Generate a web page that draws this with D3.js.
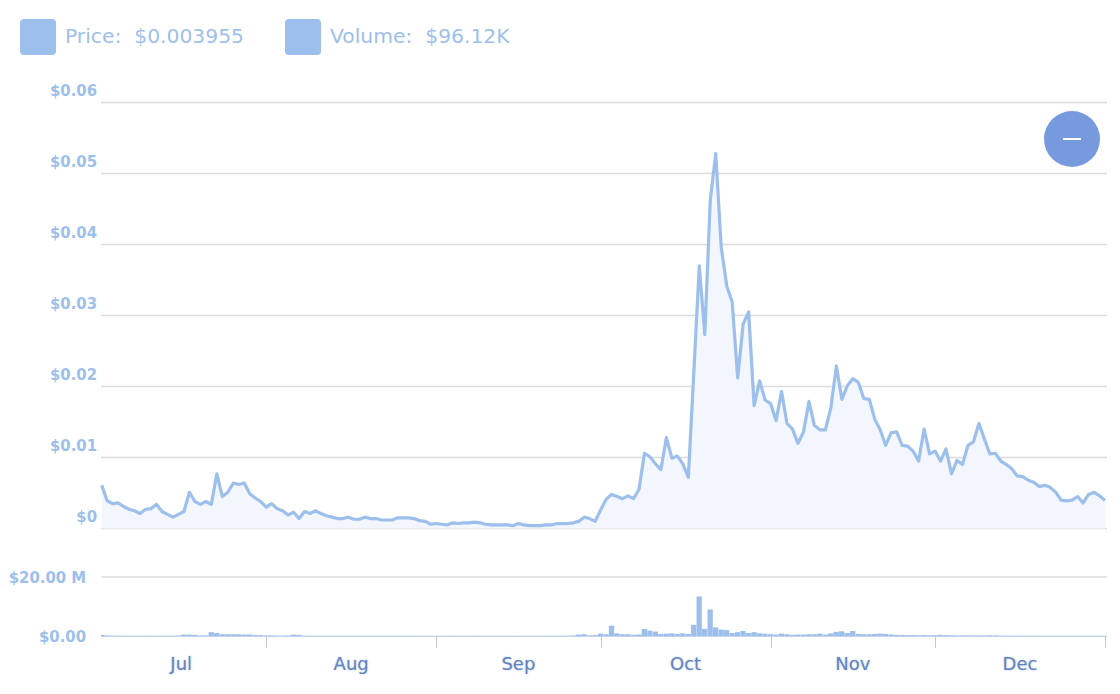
<!DOCTYPE html>
<html>
<head>
<meta charset="utf-8">
<script src="https://cdn.jsdelivr.net/npm/d3@7"></script>
<style>
  html, body { margin: 0; padding: 0; background: #fff; }
  svg { display: block; }
</style>
</head>
<body>
<div id="chart"></div>
<script>
// daily closes, Jul 2 -> Jan 1
var startDay = new Date(2023, 6, 2);

var priceValues = [
  0.0061, 0.0039, 0.0035, 0.0036, 0.0031, 0.0027, 0.0025, 0.0021, 0.0027, 0.0028,
  0.0034, 0.0024, 0.0020, 0.0016, 0.0020, 0.0024, 0.0051, 0.0038, 0.0034, 0.0038,
  0.0034, 0.0077, 0.0045, 0.0051, 0.0064, 0.0062, 0.0064, 0.0049, 0.0043, 0.0038,
  0.0030, 0.0035, 0.0028, 0.0025, 0.0019, 0.0023, 0.0014, 0.0024, 0.0021, 0.0025,
  0.0021, 0.0018, 0.0016, 0.0014, 0.0014, 0.0016, 0.0013, 0.0013, 0.0016, 0.0014,
  0.0014, 0.0012, 0.0012, 0.0012, 0.0015, 0.0015, 0.0015, 0.0014, 0.0011, 0.0010,
  0.0006, 0.0007, 0.0006, 0.0005, 0.0008, 0.0007, 0.0008, 0.0008, 0.0009, 0.0008,
  0.0006, 0.0005, 0.0005, 0.0005, 0.0005, 0.0004, 0.0007, 0.0005, 0.0004, 0.0004,
  0.0004, 0.0005, 0.0005, 0.0007, 0.0007, 0.0007, 0.0008, 0.0010, 0.0016, 0.0014,
  0.0010, 0.0026, 0.0041, 0.0048, 0.0045, 0.0042, 0.0046, 0.0042, 0.0055, 0.0106,
  0.0101, 0.0091, 0.0083, 0.0128, 0.0099, 0.0102, 0.0091, 0.0072, 0.0220, 0.0370,
  0.0273, 0.0462, 0.0528, 0.0396, 0.0342, 0.0319, 0.0212, 0.0288, 0.0305, 0.0173,
  0.0208, 0.0181, 0.0176, 0.0152, 0.0193, 0.0148, 0.0140, 0.0120, 0.0136, 0.0179,
  0.0145, 0.0139, 0.0139, 0.0170, 0.0229, 0.0182, 0.0201, 0.0211, 0.0206, 0.0183,
  0.0182, 0.0154, 0.0139, 0.0117, 0.0135, 0.0136, 0.0117, 0.0116, 0.0109, 0.0095,
  0.0140, 0.0105, 0.0109, 0.0095, 0.0112, 0.0077, 0.0096, 0.0090, 0.0117, 0.0122,
  0.0148, 0.0126, 0.0105, 0.0106, 0.0095, 0.0090, 0.0084, 0.0074, 0.0073, 0.0068,
  0.0065, 0.0059, 0.0061, 0.0058, 0.0051, 0.0040, 0.0039, 0.0040, 0.0045, 0.0036,
  0.0048, 0.0051, 0.0046, 0.003955
];

// volume in millions of dollars
var volumeValues = [
  0.40, 0.20, 0.15, 0.15, 0.12, 0.12, 0.10, 0.12, 0.15, 0.12,
  0.10, 0.12, 0.15, 0.12, 0.20, 0.50, 0.50, 0.40, 0.20, 0.20,
  1.30, 1.00, 0.60, 0.60, 0.60, 0.60, 0.50, 0.50, 0.35, 0.30,
  0.20, 0.20, 0.15, 0.15, 0.20, 0.45, 0.40, 0.15, 0.12, 0.12,
  0.10, 0.10, 0.12, 0.10, 0.10, 0.12, 0.10, 0.10, 0.10, 0.12,
  0.10, 0.10, 0.10, 0.12, 0.10, 0.10, 0.10, 0.10, 0.08, 0.08,
  0.08, 0.08, 0.08, 0.08, 0.10, 0.08, 0.08, 0.08, 0.10, 0.08,
  0.08, 0.08, 0.08, 0.08, 0.08, 0.08, 0.10, 0.08, 0.08, 0.08,
  0.08, 0.10, 0.10, 0.12, 0.12, 0.15, 0.20, 0.50, 0.60, 0.20,
  0.30, 0.80, 0.60, 3.50, 0.90, 0.60, 0.60, 0.40, 0.50, 2.40,
  1.80, 1.50, 0.70, 0.80, 0.90, 0.70, 0.90, 0.70, 3.80, 13.4,
  2.40, 9.00, 2.90, 2.20, 2.00, 1.00, 1.30, 1.70, 1.00, 1.30,
  0.90, 0.80, 0.60, 0.50, 0.80, 0.60, 0.40, 0.50, 0.50, 0.60,
  0.60, 0.80, 0.50, 0.90, 1.40, 1.60, 1.00, 1.70, 0.70, 0.60,
  0.60, 0.70, 0.80, 0.70, 0.50, 0.40, 0.35, 0.30, 0.30, 0.25,
  0.30, 0.25, 0.30, 0.40, 0.30, 0.25, 0.20, 0.20, 0.25, 0.20,
  0.20, 0.20, 0.25, 0.20, 0.15, 0.15, 0.15, 0.15, 0.12, 0.12,
  0.12, 0.12, 0.10, 0.12, 0.10, 0.10, 0.10, 0.10, 0.10, 0.10,
  0.10, 0.10, 0.10, 0.096
];

var priceTicks = [0, 0.01, 0.02, 0.03, 0.04, 0.05, 0.06];
var volumeTicks = [0, 20];
var monthLabels = ["Jul", "Aug", "Sep", "Oct", "Nov", "Dec"];

var legendItems = [
  { label: "Price:", value: "$0.003955" },
  { label: "Volume:", value: "$96.12K" }
];

var W = 1120, H = 694;
var plotLeft = 101.7, plotRight = 1105, gridLeft = 101, gridRight = 1107;
var blue = "#9dbfec", labelBlue = "#9dbfec", axisBlue = "#6384bd";

var dates = priceValues.map(function (v, i) { return d3.timeDay.offset(startDay, i); });
var priceData = dates.map(function (d, i) { return { date: d, value: priceValues[i] }; });
var volumeData = dates.map(function (d, i) { return { date: d, value: volumeValues[i] }; });

var x = d3.scaleTime()
  .domain([dates[0], dates[dates.length - 1]])
  .range([plotLeft, plotRight]);

var yPrice = d3.scaleLinear().domain([0, 0.06]).range([528.5, 102.5]);
var yVol = d3.scaleLinear().domain([0, 20]).range([636, 577]);

var svg = d3.select("#chart").append("svg")
  .attr("width", W)
  .attr("height", H);

// legend
function drawLegend() {
  var xPos = 20;
  legendItems.forEach(function (item) {
    var g = svg.append("g").attr("transform", "translate(" + xPos + ",19)");
    g.append("rect")
      .attr("width", 36)
      .attr("height", 36)
      .attr("rx", 4)
      .attr("fill", blue);
    var t = g.append("text")
      .attr("x", 45)
      .attr("y", 24)
      .attr("font-family", "'DejaVu Sans', sans-serif")
      .attr("font-size", "20.3px")
      .attr("fill", labelBlue);
    t.append("tspan").text(item.label);
    t.append("tspan").attr("dx", 13).text(item.value);
    xPos += 45 + t.node().getComputedTextLength() + 13 + 41;
  });
}
drawLegend();

// price grid + labels
var priceGrid = svg.append("g");
priceGrid.selectAll("line")
  .data(priceTicks)
  .enter().append("line")
  .attr("x1", gridLeft)
  .attr("x2", gridRight)
  .attr("y1", function (d) { return yPrice(d); })
  .attr("y2", function (d) { return yPrice(d); })
  .attr("stroke", "#dcdcdc")
  .attr("stroke-width", 1.5);

priceGrid.selectAll("text")
  .data(priceTicks)
  .enter().append("text")
  .attr("x", 97)
  .attr("y", function (d) { return yPrice(d) - 7; })
  .attr("text-anchor", "end")
  .attr("font-family", "'DejaVu Sans Condensed', 'DejaVu Sans', sans-serif")
  .attr("font-weight", "bold")
  .attr("font-size", "16.5px")
  .attr("fill", labelBlue)
  .text(function (d) { return d === 0 ? "$0" : "$" + d.toFixed(2); });

// volume grid + labels
var volGrid = svg.append("g");
volGrid.selectAll("line")
  .data(volumeTicks.slice(1))
  .enter().append("line")
  .attr("x1", gridLeft)
  .attr("x2", gridRight)
  .attr("y1", function (d) { return yVol(d); })
  .attr("y2", function (d) { return yVol(d); })
  .attr("stroke", "#dcdcdc")
  .attr("stroke-width", 1.5);

volGrid.selectAll("text")
  .data(volumeTicks)
  .enter().append("text")
  .attr("x", 86)
  .attr("y", function (d) { return yVol(d); })
  .attr("dy", "0.36em")
  .attr("text-anchor", "end")
  .attr("font-family", "'DejaVu Sans Condensed', 'DejaVu Sans', sans-serif")
  .attr("font-weight", "bold")
  .attr("font-size", "16.5px")
  .attr("fill", labelBlue)
  .text(function (d) { return d === 0 ? "$0.00" : "$" + d.toFixed(2) + " M"; });

// price area + line
var area = d3.area()
  .x(function (d) { return x(d.date); })
  .y0(yPrice(0))
  .y1(function (d) { return yPrice(d.value); });

var line = d3.line()
  .x(function (d) { return x(d.date); })
  .y(function (d) { return yPrice(d.value); });

svg.append("path")
  .datum(priceData)
  .attr("d", area)
  .attr("fill", "#f3f7fd");

svg.append("path")
  .datum(priceData)
  .attr("d", line)
  .attr("fill", "none")
  .attr("stroke", blue)
  .attr("stroke-width", 3.2)
  .attr("stroke-linejoin", "round");

// volume bars
var step = x(dates[1]) - x(dates[0]);
svg.append("defs").append("clipPath").attr("id", "volClip")
  .append("rect")
  .attr("x", gridLeft).attr("y", 500)
  .attr("width", gridRight - gridLeft).attr("height", 140);

svg.append("g")
  .attr("clip-path", "url(#volClip)")
  .selectAll("rect")
  .data(volumeData)
  .enter().append("rect")
  .attr("x", function (d) { return x(d.date) - step / 2; })
  .attr("width", step - 0.2)
  .attr("y", function (d) { return yVol(d.value); })
  .attr("height", function (d) { return yVol(0) - yVol(d.value); })
  .attr("fill", blue);

// x axis
svg.append("line")
  .attr("x1", gridLeft)
  .attr("x2", gridRight)
  .attr("y1", yVol(0) + 0.5)
  .attr("y2", yVol(0) + 0.5)
  .attr("stroke", "#c5d3ea")
  .attr("stroke-width", 1);

var monthStarts = d3.timeMonth.range(new Date(2023, 6, 1), new Date(2024, 0, 2));
var boundaries = monthStarts.slice(1);

svg.append("g").selectAll("line")
  .data(boundaries)
  .enter().append("line")
  .attr("x1", function (d) { return Math.round(x(d)) + 0.5; })
  .attr("x2", function (d) { return Math.round(x(d)) + 0.5; })
  .attr("y1", yVol(0))
  .attr("y2", yVol(0) + 12)
  .attr("stroke", "#c8c8c8")
  .attr("stroke-width", 1);

svg.append("g").selectAll("text")
  .data(monthStarts.slice(0, monthLabels.length))
  .enter().append("text")
  .attr("x", function (d) {
    var next = d3.timeMonth.offset(d, 1);
    return (x(d) + x(next)) / 2;
  })
  .attr("y", 670)
  .attr("text-anchor", "middle")
  .attr("font-family", "'DejaVu Sans', sans-serif")
  .attr("font-size", "18px")
  .attr("fill", axisBlue)
  .attr("style", "text-shadow: 0 0 2px rgba(120,150,210,0.6)")
  .text(function (d, i) { return monthLabels[i]; });

// zoom-out button
var btn = svg.append("g").attr("transform", "translate(1072,139)");
btn.append("circle").attr("r", 28).attr("fill", "#7799dd");
btn.append("line")
  .attr("x1", -9).attr("x2", 9)
  .attr("y1", 0).attr("y2", 0)
  .attr("stroke", "#fff")
  .attr("stroke-width", 2);
</script>
</body>
</html>
